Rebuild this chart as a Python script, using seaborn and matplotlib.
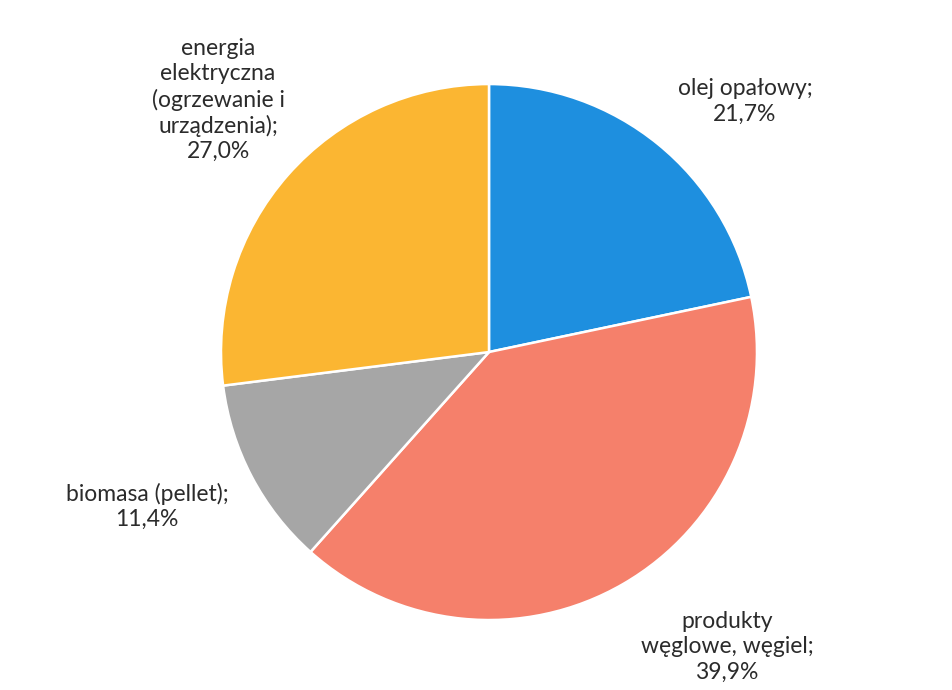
import matplotlib
matplotlib.use("Agg")
import matplotlib.pyplot as plt
import seaborn as sns

categories = ["olej opałowy", "produkty\nwęglowe, węgiel", "biomasa (pellet)",
              "energia\nelektryczna\n(ogrzewanie i\nurządzenia)"]
values = [21.7, 39.9, 11.4, 27.0]
value_labels = ["21,7%", "39,9%", "11,4%", "27,0%"]
colors = ["#1E8FDF", "#F5806B", "#A6A6A6", "#FBB632"]

# label placement (layout, in radius units relative to the pie centre)
label_pos = [(0.955, 0.935), (0.888, -1.10), (-1.276, -0.575), (-1.011, 0.94)]

sns.set_theme(style="white")
plt.rcParams["font.family"] = ["Lato", "DejaVu Sans"]

fig = plt.figure(figsize=(9.53, 6.90), dpi=100)
ax = fig.add_axes([0.2319, 0.1014, 0.5624, 0.7768])
wedges, _ = ax.pie(values, colors=colors, startangle=90, counterclock=False,
                   radius=1.0,
                   wedgeprops=dict(edgecolor="white", linewidth=1.8))
for cat, vl, (x, y) in zip(categories, value_labels, label_pos):
    ax.text(x, y, f"{cat};\n{vl}", ha="center", va="center", fontsize=16.5,
            color="#2b2b2b", linespacing=1.24, clip_on=False)
ax.set_xlim(-1, 1)
ax.set_ylim(-1, 1)
ax.set_aspect("equal")
ax.axis("off")
fig.savefig("out.png", dpi=100, facecolor="white")
